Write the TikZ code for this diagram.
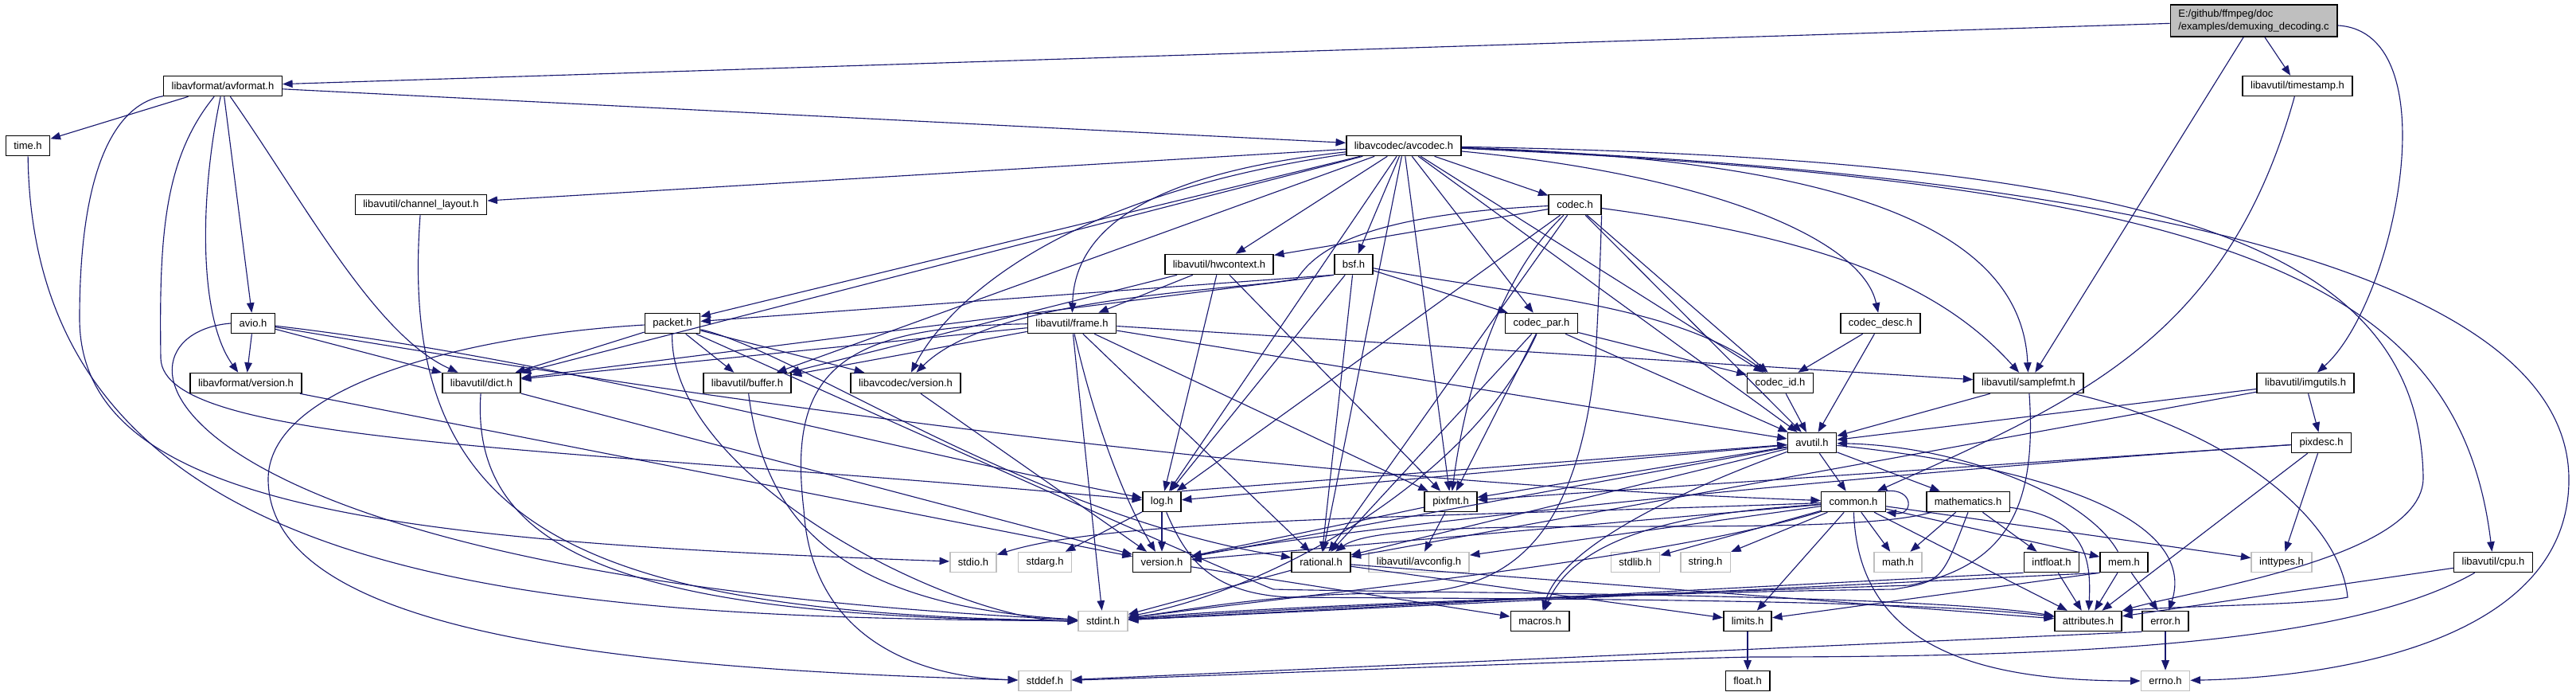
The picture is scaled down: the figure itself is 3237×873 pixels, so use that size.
\documentclass[tikz,border=0pt]{standalone}
\usepackage{fontspec}
\setmainfont{Liberation Sans}
\usepackage{tikz}
\usetikzlibrary{arrows.meta}
\definecolor{edgeblue}{RGB}{25,25,112}

\begin{document}
\begin{tikzpicture}[
  x=0.1mm, y=-0.1mm,
  every node/.style={font=\fontsize{3.7}{4.4}\selectfont},
  hdr/.style={draw=black, fill=white, rectangle, line width=0.45pt, minimum height=2.5mm, inner xsep=1mm, inner ysep=0.3mm},
  syshdr/.style={hdr, draw=gray!50},
  srcfile/.style={hdr, fill=gray!50, align=left, minimum height=4mm},
  incl/.style={-{Stealth[length=1.25mm, width=0.95mm, inset=0pt]}, draw=edgeblue, line width=0.32pt}
]
\useasboundingbox[fill=white] (0,0) rectangle (3237,873);

\node[srcfile] (root) at (2832,26) {E:/github/ffmpeg/doc\\/examples/demuxing\_decoding.c};
\node[hdr] (avformat) at (280,108) {libavformat/avformat.h};
\node[hdr] (timestamp) at (2887,108) {libavutil/timestamp.h};
\node[hdr] (time) at (35,183) {time.h};
\node[hdr] (avcodec) at (1764,183) {libavcodec/avcodec.h};
\node[hdr] (chlayout) at (529,257) {libavutil/channel\_layout.h};
\node[hdr] (codec) at (1979,257) {codec.h};
\node[hdr] (hwctx) at (1532,332) {libavutil/hwcontext.h};
\node[hdr] (bsf) at (1701,332) {bsf.h};
\node[hdr] (avio) at (318,406) {avio.h};
\node[hdr] (packet) at (845,406) {packet.h};
\node[hdr] (frame) at (1347,406) {libavutil/frame.h};
\node[hdr] (codecpar) at (1937,406) {codec\_par.h};
\node[hdr] (codecdesc) at (2363,406) {codec\_desc.h};
\node[hdr] (lavfver) at (309,481) {libavformat/version.h};
\node[hdr] (dict) at (605,481) {libavutil/dict.h};
\node[hdr] (buffer) at (939,481) {libavutil/buffer.h};
\node[hdr] (lavcver) at (1138,481) {libavcodec/version.h};
\node[hdr] (codecid) at (2237,481) {codec\_id.h};
\node[hdr] (samplefmt) at (2549,481) {libavutil/samplefmt.h};
\node[hdr] (imgutils) at (2897,481) {libavutil/imgutils.h};
\node[hdr] (avutil) at (2277,556) {avutil.h};
\node[hdr] (pixdesc) at (2917,556) {pixdesc.h};
\node[hdr] (log) at (1460,630) {log.h};
\node[hdr] (pixfmt) at (1823,630) {pixfmt.h};
\node[hdr] (common) at (2329,630) {common.h};
\node[hdr] (mathematics) at (2473,630) {mathematics.h};
\node[syshdr] (stdio) at (1223,706) {stdio.h};
\node[syshdr] (stdarg) at (1313,706) {stdarg.h};
\node[hdr] (version) at (1460,706) {version.h};
\node[hdr] (rational) at (1660,706) {rational.h};
\node[syshdr] (avconfig) at (1783,706) {libavutil/avconfig.h};
\node[syshdr] (stdlib) at (2055,706) {stdlib.h};
\node[syshdr] (string) at (2143,706) {string.h};
\node[syshdr] (math) at (2385,706) {math.h};
\node[hdr] (intfloat) at (2578,706) {intfloat.h};
\node[hdr] (mem) at (2669,706) {mem.h};
\node[syshdr] (inttypes) at (2867,706) {inttypes.h};
\node[hdr] (cpu) at (3133,706) {libavutil/cpu.h};
\node[syshdr] (stdint) at (1386,780) {stdint.h};
\node[hdr] (macros) at (1935,780) {macros.h};
\node[hdr] (limits) at (2196,780) {limits.h};
\node[hdr] (attributes) at (2624,780) {attributes.h};
\node[hdr] (error) at (2721,780) {error.h};
\node[syshdr] (stddef) at (1313,855) {stddef.h};
\node[hdr] (float) at (2196,855) {float.h};
\node[syshdr] (errno) at (2721,855) {errno.h};

\draw[incl] (root) -- (avformat);
\draw[incl] (root) -- (timestamp);
\draw[incl] (root) -- (samplefmt);
\draw[incl] (root) .. controls (3080,40) and (3010,380) .. (imgutils);

\draw[incl] (avformat) -- (time);
\draw[incl] (avformat) -- (avcodec);
\draw[incl] (avformat) -- (avio);
\draw[incl] (avformat) .. controls (250,250) and (250,400) .. (lavfver);
\draw[incl] (avformat) .. controls (380,250) and (470,420) .. (dict);
\draw[incl] (avformat) .. controls (205,200) and (200,300) .. (202,450) .. controls (205,560) and (700,560) .. (log);
\draw[incl] (avformat) .. controls (150,130) and (100,200) .. (100,400) .. controls (100,640) and (500,680) .. (stdio);

\draw[incl] (timestamp) .. controls (2800,420) and (2620,500) .. (common);
\draw[incl] (time) .. controls (42,750) and (700,775) .. (stdint);

\draw[incl] (avcodec) -- (chlayout);
\draw[incl] (avcodec) -- (packet);
\draw[incl] (avcodec) -- (dict);
\draw[incl] (avcodec) -- (buffer);
\draw[incl] (avcodec) .. controls (1300,250) and (1180,400) .. (lavcver);
\draw[incl] (avcodec) .. controls (1420,220) and (1350,300) .. (frame);
\draw[incl] (avcodec) -- (hwctx);
\draw[incl] (avcodec) -- (log);
\draw[incl] (avcodec) -- (bsf);
\draw[incl] (avcodec) -- (rational);
\draw[incl] (avcodec) -- (pixfmt);
\draw[incl] (avcodec) -- (codecpar);
\draw[incl] (avcodec) -- (codec);
\draw[incl] (avcodec) -- (codecid);
\draw[incl] (avcodec) -- (avutil);
\draw[incl] (avcodec) .. controls (2150,220) and (2340,300) .. (codecdesc);
\draw[incl] (avcodec) .. controls (2300,200) and (2540,280) .. (samplefmt);
\draw[incl] (avcodec) .. controls (2800,230) and (3090,350) .. (cpu);
\draw[incl] (avcodec) .. controls (2700,200) and (3040,300) .. (3045,600) .. controls (3045,700) and (2760,740) .. (attributes.north east);
\draw[incl] (avcodec) .. controls (2700,220) and (3225,350) .. (3228,600) .. controls (3230,800) and (2950,850) .. (errno);

\draw[incl] (chlayout) .. controls (500,650) and (700,770) .. (stdint);

\draw[incl] (avio.west) .. controls (120,420) and (160,720) .. (stdint);
\draw[incl] (avio) .. controls (700,470) and (1500,600) .. (common);
\draw[incl] (avio) -- (dict);
\draw[incl] (avio) .. controls (700,450) and (1100,560) .. (log);
\draw[incl] (avio) -- (lavfver);

\draw[incl] (codec) -- (hwctx);
\draw[incl] (codec) .. controls (1700,270) and (1650,320) .. (1630,350) .. controls (1560,365) and (1250,370) .. (lavcver);
\draw[incl] (codec.south east) .. controls (2010,350) .. (2005,450) .. controls (1980,700) and (1880,745) .. (1750,745) .. controls (1600,745) and (1500,765) .. (stdint);
\draw[incl] (codec) -- (log);
\draw[incl] (codec) .. controls (1880,350) and (1840,500) .. (pixfmt);
\draw[incl] (codec) -- (rational);
\draw[incl] (codec) -- (codecid);
\draw[incl] (codec) -- (avutil);
\draw[incl] (codec) .. controls (2300,300) and (2440,360) .. (samplefmt);

\draw[incl] (hwctx) -- (buffer);
\draw[incl] (hwctx) -- (frame);
\draw[incl] (hwctx) -- (log);
\draw[incl] (hwctx) -- (pixfmt);

\draw[incl] (bsf.south west) -- (packet);
\draw[incl] (bsf.south west) -- (dict);
\draw[incl] (bsf) -- (log);
\draw[incl] (bsf) -- (rational);
\draw[incl] (bsf) .. controls (1900,370) and (2100,380) .. (codecid);
\draw[incl] (bsf) -- (codecpar);

\draw[incl] (packet) .. controls (600,420) and (340,480) .. (337,600) .. controls (335,800) and (800,840) .. (stddef);
\draw[incl] (packet) .. controls (840,600) and (1200,780) .. (stdint);
\draw[incl] (packet) .. controls (1100,520) and (1500,700) .. (1600,740) .. controls (1800,745) and (2400,745) .. (attributes);
\draw[incl] (packet) -- (buffer);
\draw[incl] (packet) -- (dict);
\draw[incl] (packet) .. controls (1000,440) and (1300,650) .. (rational);
\draw[incl] (packet) -- (lavcver);

\draw[incl] (frame) .. controls (1050,410) and (990,470) .. (1010,640) .. controls (1020,800) and (1150,850) .. (stddef);
\draw[incl] (frame) -- (stdint);
\draw[incl] (frame) -- (avutil);
\draw[incl] (frame) -- (buffer);
\draw[incl] (frame) -- (dict);
\draw[incl] (frame) -- (rational);
\draw[incl] (frame) -- (samplefmt);
\draw[incl] (frame) -- (pixfmt);
\draw[incl] (frame) .. controls (1380,550) and (1420,640) .. (version);

\draw[incl] (codecpar) .. controls (1850,600) and (1600,740) .. (stdint);
\draw[incl] (codecpar) -- (avutil);
\draw[incl] (codecpar) -- (rational);
\draw[incl] (codecpar) -- (pixfmt);
\draw[incl] (codecpar) -- (codecid);

\draw[incl] (codecdesc) -- (avutil);
\draw[incl] (codecdesc) -- (codecid);

\draw[incl] (lavfver) -- (version);
\draw[incl] (dict) .. controls (590,700) and (800,775) .. (stdint);
\draw[incl] (dict) -- (version);
\draw[incl] (buffer) .. controls (960,650) and (1050,760) .. (stdint);
\draw[incl] (lavcver) -- (version);
\draw[incl] (codecid) -- (avutil);

\draw[incl] (samplefmt) -- (avutil);
\draw[incl] (samplefmt) .. controls (2560,640) and (2520,710) .. (2400,735) .. controls (2100,745) and (1600,760) .. (stdint);
\draw[incl] (samplefmt) .. controls (2800,540) and (2940,650) .. (2950,750) .. controls (2900,760) and (2760,760) .. (attributes.north east);

\draw[incl] (imgutils) -- (avutil);
\draw[incl] (imgutils) -- (pixdesc);
\draw[incl] (imgutils) -- (rational);

\draw[incl] (avutil) -- (common);
\draw[incl] (avutil) .. controls (2600,590) and (2760,660) .. (error);
\draw[incl] (avutil) -- (rational);
\draw[incl] (avutil) -- (version);
\draw[incl] (avutil) .. controls (2100,620) and (1960,690) .. (macros);
\draw[incl] (avutil) -- (mathematics);
\draw[incl] (avutil) -- (log);
\draw[incl] (avutil) -- (pixfmt);

\draw[incl] (pixdesc) -- (inttypes);
\draw[incl] (pixdesc) -- (attributes);
\draw[incl] (pixdesc) -- (pixfmt);
\draw[incl] (pixdesc) .. controls (2400,590) and (1700,660) .. (version);

\draw[incl] (log) -- (stdarg);
\draw[incl] (log.north east) -- (avutil);
\draw[incl] (log) .. controls (1490,700) and (1520,745) .. (1620,750) .. controls (1900,752) and (2400,752) .. (attributes);
\draw[incl] (log) -- (version);

\draw[incl] (pixfmt) -- (avconfig);
\draw[incl] (pixfmt) -- (version);

\draw[incl] (common) .. controls (2335,820) and (2500,855) .. (errno);
\draw[incl] (common) -- (inttypes);
\draw[incl] (common) -- (limits);
\draw[incl] (common) -- (math);
\draw[incl] (common) .. controls (2100,700) and (1700,740) .. (stdint);
\draw[incl] (common) .. controls (1800,650) and (1400,650) .. (stdio);
\draw[incl] (common) -- (stdlib);
\draw[incl] (common) -- (string);
\draw[incl] (common) -- (attributes);
\draw[incl] (common) .. controls (2200,640) and (1990,650) .. (macros);
\draw[incl] (common) -- (version);
\draw[incl] (common) -- (avconfig);
\draw[incl] (common) -- (mem);
\draw[incl] (common.north east) .. controls +(35,-4) and +(35,4) .. (common.south east);

\draw[incl] (mathematics.south) .. controls (2440,730) .. (2380,740) .. controls (2000,745) and (1600,765) .. (stdint);
\draw[incl] (mathematics) -- (math);
\draw[incl] (mathematics) .. controls (2620,650) and (2628,700) .. (attributes);
\draw[incl] (mathematics) .. controls (2300,680) and (1750,640) .. (rational);
\draw[incl] (mathematics) -- (intfloat);

\draw[incl] (version) -- (macros);

\draw[incl] (rational) -- (stdint);
\draw[incl] (rational) -- (limits);
\draw[incl] (rational) -- (attributes);

\draw[incl] (intfloat.south west) -- (stdint);
\draw[incl] (intfloat) -- (attributes);

\draw[incl] (mem.south west) -- (limits);
\draw[incl] (mem.south west) -- (stdint);
\draw[incl] (mem) -- (attributes);
\draw[incl] (mem) -- (error);
\draw[incl] (mem) .. controls (2620,620) and (2460,560) .. (avutil);

\draw[incl] (cpu) .. controls (2950,810) and (2600,825) .. (2200,825) .. controls (1900,832) and (1500,850) .. (stddef);
\draw[incl] (cpu) -- (attributes);

\draw[incl] (error) -- (errno);
\draw[incl] (error.south west) -- (stddef);

\draw[incl] (limits) -- (float);
\end{tikzpicture}
\end{document}
